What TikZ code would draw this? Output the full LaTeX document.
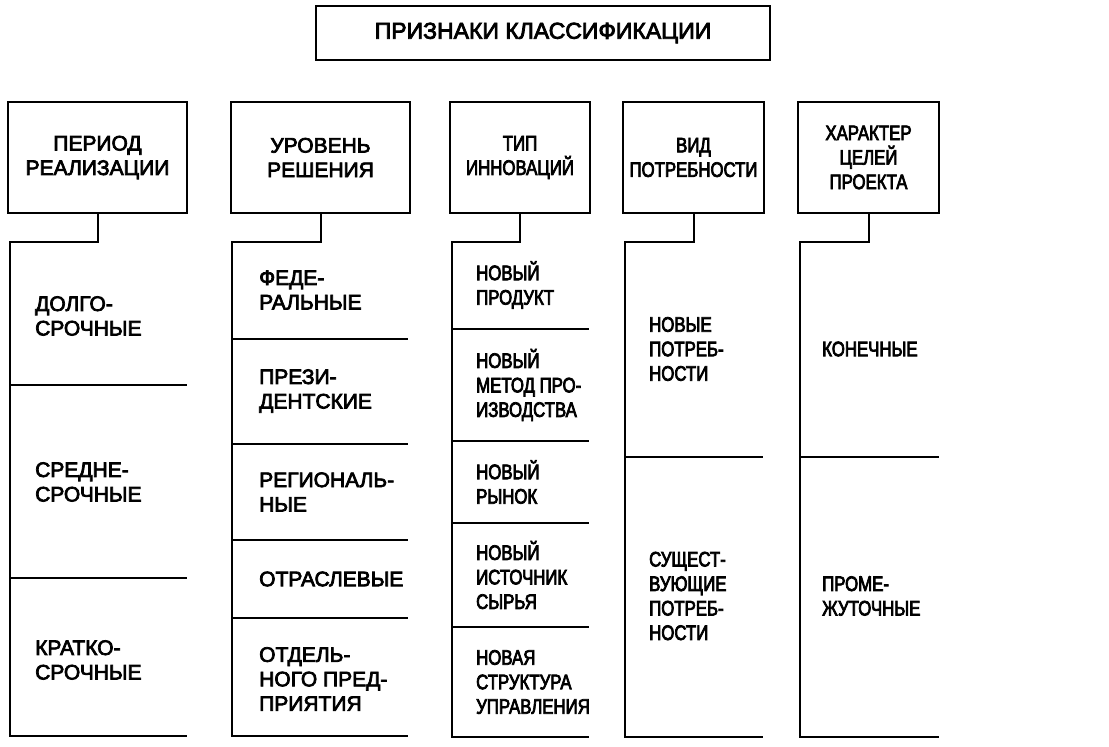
\documentclass[tikz,border=0pt]{standalone}
\usepackage{fontspec}
\setmainfont{Liberation Sans}
\newfontfamily\wideF{Liberation Sans}[FakeBold=3.5]
\newfontfamily\narrowF{Liberation Sans}[FakeBold=3.5,FakeStretch=0.8]
\begin{document}
\begin{tikzpicture}[x=1pt,y=-1pt,
  wtxt/.style={font=\wideF\fontsize{21}{24.5}\selectfont},
  ntxt/.style={font=\narrowF\fontsize{21}{24.5}\selectfont},
  topbox/.style={draw,line width=2.6pt,minimum width=454pt,minimum height=54pt,inner sep=0pt,font=\wideF\fontsize{23}{26}\selectfont},
  headbox/.style={draw,line width=2.8pt,minimum height=111pt,inner sep=0pt,align=center},
  cell/.style={anchor=west,inner sep=0pt,align=left},
  ln/.style={line width=2pt},
]
\useasboundingbox (0,0) rectangle (1109,747);
% top
\node[topbox] (top) at (543,33) {ПРИЗНАКИ КЛАССИФИКАЦИИ};
% headers
\node[headbox,wtxt,minimum width=179pt] (h1) at (97.5,157.5) {ПЕРИОД\\РЕАЛИЗАЦИИ};
\node[headbox,wtxt,minimum width=179pt] (h2) at (320.5,157.5) {УРОВЕНЬ\\РЕШЕНИЯ};
\node[headbox,ntxt,minimum width=140pt] (h3) at (520,157.5) {ТИП\\ИННОВАЦИЙ};
\node[headbox,ntxt,minimum width=141pt] (h4) at (693.5,157.5) {ВИД\\ПОТРЕБНОСТИ};
\node[headbox,ntxt,minimum width=141pt] (h5) at (868.5,157.5) {ХАРАКТЕР\\ЦЕЛЕЙ\\ПРОЕКТА};
% column spines
\coordinate (c1t) at (10,242);  \coordinate (c1b) at (10,736);
\coordinate (c2t) at (232,242); \coordinate (c2b) at (232,736);
\coordinate (c3t) at (452,242); \coordinate (c3b) at (452,737);
\coordinate (c4t) at (625,242); \coordinate (c4b) at (625,737);
\coordinate (c5t) at (800,242); \coordinate (c5b) at (800,737);
\draw[ln] (h1.south) |- (c1t) -- (c1b) -- (187,736);
\draw[ln] (h2.south) |- (c2t) -- (c2b) -- (408,736);
\draw[ln] (h3.south) |- (c3t) -- (c3b) -- (589,737);
\draw[ln] (h4.south) |- (c4t) -- (c4b) -- (763,737);
\draw[ln] (h5.south) |- (c5t) -- (c5b) -- (939,737);
% dividers
\draw[ln] (10,385) -- (187,385);
\draw[ln] (10,578) -- (187,578);
\draw[ln] (232,339) -- (408,339);
\draw[ln] (232,444) -- (408,444);
\draw[ln] (232,540) -- (408,540);
\draw[ln] (232,618) -- (408,618);
\draw[ln] (452,329) -- (589,329);
\draw[ln] (452,441) -- (589,441);
\draw[ln] (452,523) -- (589,523);
\draw[ln] (452,627) -- (589,627);
\draw[ln] (625,457) -- (763,457);
\draw[ln] (800,457) -- (939,457);
% column 1
\node[cell,wtxt] (a1) at (35,316) {ДОЛГО-\\СРОЧНЫЕ};
\node[cell,wtxt] (a2) at (35,482) {СРЕДНЕ-\\СРОЧНЫЕ};
\node[cell,wtxt] (a3) at (35,660) {КРАТКО-\\СРОЧНЫЕ};
% column 2
\node[cell,wtxt] (b1) at (259,290) {ФЕДЕ-\\РАЛЬНЫЕ};
\node[cell,wtxt] (b2) at (259,391) {ПРЕЗИ-\\ДЕНТСКИЕ};
\node[cell,wtxt] (b3) at (259,492) {РЕГИОНАЛЬ-\\НЫЕ};
\node[cell,wtxt] (b4) at (259,579) {ОТРАСЛЕВЫЕ};
\node[cell,wtxt] (b5) at (259,679) {ОТДЕЛЬ-\\НОГО ПРЕД-\\ПРИЯТИЯ};
% column 3
\node[cell,ntxt] (d1) at (476,285) {НОВЫЙ\\ПРОДУКТ};
\node[cell,ntxt] (d2) at (476,385) {НОВЫЙ\\МЕТОД ПРО-\\ИЗВОДСТВА};
\node[cell,ntxt] (d3) at (476,482) {НОВЫЙ\\РЫНОК};
\node[cell,ntxt] (d4) at (476,575) {НОВЫЙ\\ИСТОЧНИК\\СЫРЬЯ};
\node[cell,ntxt] (d5) at (476,682) {НОВАЯ\\СТРУКТУРА\\УПРАВЛЕНИЯ};
% column 4
\node[cell,ntxt] (e1) at (649,349) {НОВЫЕ\\ПОТРЕБ-\\НОСТИ};
\node[cell,ntxt] (e2) at (649,596) {СУЩЕСТ-\\ВУЮЩИЕ\\ПОТРЕБ-\\НОСТИ};
% column 5
\node[cell,ntxt] (f1) at (822,349) {КОНЕЧНЫЕ};
\node[cell,ntxt] (f2) at (822,596) {ПРОМЕ-\\ЖУТОЧНЫЕ};
\end{tikzpicture}
\end{document}
